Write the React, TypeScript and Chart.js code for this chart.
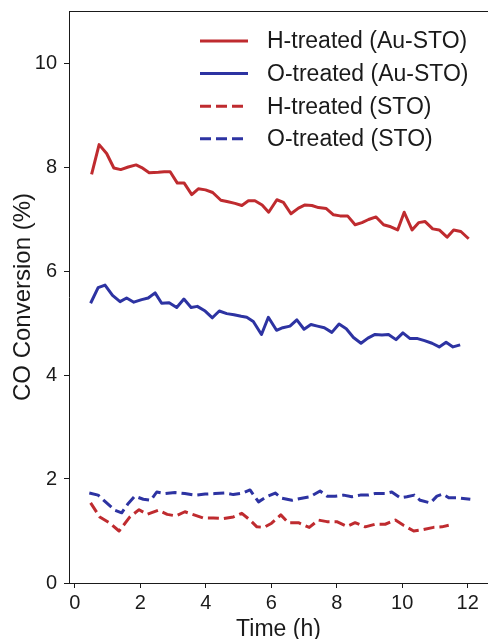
import React, { useEffect, useRef } from 'react';
import { Chart, registerables } from 'chart.js';

Chart.register(...registerables);

// ---- data ----
const seriesLabels = ['H-treated (Au-STO)', 'O-treated (Au-STO)', 'H-treated (STO)', 'O-treated (STO)'];

const hAuTime = [0.51, 0.74, 0.97, 1.19, 1.40, 1.63, 1.87, 2.04, 2.27, 2.55, 2.73, 2.91, 3.13, 3.34, 3.57, 3.77, 3.99, 4.21, 4.46, 4.68, 4.89, 5.10, 5.30, 5.50, 5.72, 5.92, 6.17, 6.37, 6.60, 6.83, 7.03, 7.24, 7.44, 7.68, 7.90, 8.10, 8.33, 8.56, 8.77, 8.97, 9.20, 9.43, 9.65, 9.86, 10.06, 10.30, 10.50, 10.70, 10.93, 11.13, 11.37, 11.57, 11.79, 12.03];
const hAuConv = [7.86, 8.43, 8.26, 7.98, 7.95, 8.00, 8.04, 7.99, 7.89, 7.90, 7.91, 7.91, 7.69, 7.69, 7.47, 7.58, 7.56, 7.51, 7.36, 7.33, 7.30, 7.26, 7.35, 7.35, 7.27, 7.13, 7.37, 7.32, 7.10, 7.21, 7.27, 7.26, 7.22, 7.20, 7.08, 7.06, 7.06, 6.89, 6.93, 6.99, 7.04, 6.89, 6.85, 6.79, 7.13, 6.79, 6.93, 6.95, 6.81, 6.79, 6.65, 6.79, 6.76, 6.62];

const oAuTime = [0.48, 0.71, 0.92, 1.15, 1.38, 1.58, 1.80, 2.04, 2.24, 2.45, 2.65, 2.88, 3.11, 3.33, 3.55, 3.74, 3.98, 4.20, 4.41, 4.64, 4.86, 5.08, 5.25, 5.45, 5.70, 5.91, 6.16, 6.35, 6.57, 6.78, 7.00, 7.21, 7.41, 7.62, 7.85, 8.07, 8.29, 8.51, 8.74, 8.95, 9.17, 9.38, 9.58, 9.81, 10.02, 10.24, 10.47, 10.68, 10.91, 11.13, 11.34, 11.55, 11.77];
const oAuConv = [5.38, 5.68, 5.73, 5.53, 5.41, 5.48, 5.40, 5.45, 5.48, 5.58, 5.38, 5.39, 5.30, 5.46, 5.30, 5.32, 5.23, 5.10, 5.23, 5.18, 5.16, 5.13, 5.11, 5.03, 4.78, 5.11, 4.86, 4.91, 4.94, 5.06, 4.88, 4.97, 4.94, 4.91, 4.82, 4.98, 4.89, 4.72, 4.61, 4.71, 4.78, 4.77, 4.78, 4.68, 4.81, 4.70, 4.70, 4.66, 4.61, 4.54, 4.63, 4.54, 4.58];

const hStoTime = [0.48, 0.76, 1.07, 1.35, 1.68, 1.96, 2.21, 2.55, 2.82, 3.09, 3.36, 3.64, 3.92, 4.23, 4.54, 4.84, 5.10, 5.35, 5.56, 5.78, 6.01, 6.29, 6.52, 6.83, 7.16, 7.44, 7.70, 8.00, 8.31, 8.56, 8.87, 9.17, 9.48, 9.79, 10.04, 10.35, 10.65, 10.96, 11.21, 11.42];
const hStoConv = [1.54, 1.27, 1.15, 1.00, 1.27, 1.41, 1.32, 1.40, 1.32, 1.29, 1.37, 1.31, 1.25, 1.25, 1.24, 1.27, 1.34, 1.21, 1.08, 1.07, 1.15, 1.31, 1.16, 1.16, 1.07, 1.21, 1.18, 1.18, 1.09, 1.16, 1.08, 1.13, 1.13, 1.21, 1.11, 1.00, 1.03, 1.07, 1.08, 1.11];

const oStoTime = [0.44, 0.71, 0.97, 1.22, 1.43, 1.63, 1.83, 2.09, 2.32, 2.50, 2.75, 3.06, 3.36, 3.67, 3.98, 4.28, 4.59, 4.84, 5.13, 5.35, 5.61, 5.86, 6.12, 6.32, 6.63, 6.93, 7.19, 7.49, 7.70, 7.95, 8.21, 8.46, 8.72, 8.97, 9.17, 9.48, 9.68, 9.94, 10.14, 10.37, 10.55, 10.86, 11.06, 11.24, 11.42, 11.67, 12.08];
const oStoConv = [1.73, 1.69, 1.54, 1.40, 1.35, 1.53, 1.67, 1.61, 1.59, 1.75, 1.72, 1.74, 1.72, 1.69, 1.71, 1.72, 1.73, 1.70, 1.73, 1.79, 1.56, 1.66, 1.73, 1.63, 1.59, 1.63, 1.66, 1.77, 1.67, 1.67, 1.69, 1.66, 1.69, 1.69, 1.72, 1.72, 1.75, 1.64, 1.66, 1.69, 1.59, 1.54, 1.67, 1.71, 1.64, 1.64, 1.61];

const xTicks = [0, 2, 4, 6, 8, 10, 12];
const yTicks = [0, 2, 4, 6, 8, 10];
const xTitle = 'Time (h)';
const yTitle = 'CO Conversion (%)';

// ---- styles ----
const RED = '#bf2b2f';
const BLUE = '#2d33a2';
const INK = '#1a1a1a';
const FONT = '"Liberation Sans", Arial, Helvetica, sans-serif';

const toPts = (t: number[], v: number[]) => t.map((x, i) => ({ x, y: v[i] }));

const frameAndLegend = {
  id: 'frameAndLegend',
  afterDraw(chart: any) {
    const ctx = chart.ctx;
    const { left, right, top } = chart.chartArea;
    ctx.save();
    // top spine
    ctx.strokeStyle = INK;
    ctx.lineWidth = 1;
    ctx.setLineDash([]);
    ctx.beginPath();
    ctx.moveTo(left, Math.round(top) + 0.5);
    ctx.lineTo(right, Math.round(top) + 0.5);
    ctx.stroke();
    // legend (inside axes, upper right)
    const x0 = left + 131;
    const lineLen = 48;
    const textX = x0 + 67;
    const y0 = top + 30;
    const dy = 32.6;
    chart.data.datasets.forEach((ds: any, i: number) => {
      const y = y0 + i * dy;
      ctx.strokeStyle = ds.borderColor;
      ctx.lineWidth = ds.borderWidth;
      ctx.lineCap = 'butt';
      ctx.setLineDash(ds.borderDash || []);
      ctx.beginPath();
      ctx.moveTo(x0, y);
      ctx.lineTo(x0 + lineLen, y);
      ctx.stroke();
      ctx.setLineDash([]);
      ctx.fillStyle = INK;
      ctx.font = `23px ${FONT}`;
      ctx.textAlign = 'left';
      ctx.textBaseline = 'middle';
      ctx.fillText(ds.label, textX, y + 1);
    });
    ctx.restore();
  },
};

const noPad = (s: any) => {
  s.paddingTop = 0;
  s.paddingBottom = 0;
  s.paddingLeft = 0;
  s.paddingRight = 0;
};

export default function App() {
  const ref = useRef<HTMLCanvasElement | null>(null);

  useEffect(() => {
    document.body.style.margin = '0';
    const canvas = ref.current;
    if (!canvas) return;
    const mk = (label: string, t: number[], v: number[], color: string, dash: number[], order: number) => ({
      label,
      data: toPts(t, v),
      borderColor: color,
      backgroundColor: color,
      borderWidth: 3,
      borderDash: dash,
      borderJoinStyle: 'round' as const,
      pointRadius: 0,
      pointHoverRadius: 0,
      tension: 0,
      fill: false,
      order,
    });
    const chart = new Chart(canvas, {
      type: 'line',
      data: {
        datasets: [
          mk(seriesLabels[0], hAuTime, hAuConv, RED, [], 4),
          mk(seriesLabels[1], oAuTime, oAuConv, BLUE, [], 3),
          mk(seriesLabels[2], hStoTime, hStoConv, RED, [11, 5], 2),
          mk(seriesLabels[3], oStoTime, oStoConv, BLUE, [11, 5], 1),
        ],
      },
      options: {
        animation: false,
        responsive: true,
        maintainAspectRatio: false,
        layout: { padding: { top: 11, right: 0, left: 0, bottom: 0 } },
        plugins: { legend: { display: false }, tooltip: { enabled: false } },
        scales: {
          x: {
            type: 'linear',
            min: -0.18,
            max: 12.62,
            afterBuildTicks: (s: any) => { s.ticks = xTicks.map((v) => ({ value: v })); },
            afterFit: (s: any) => { s.height = 56; noPad(s); },
            ticks: { font: { family: FONT, size: 20 }, color: INK, padding: 3, maxRotation: 0, autoSkip: false },
            grid: { drawOnChartArea: false, drawTicks: true, tickLength: 5, tickColor: INK, color: INK },
            border: { display: true, color: INK, width: 1 },
            title: { display: true, text: xTitle, font: { family: FONT, size: 23, lineHeight: 1 }, color: INK, padding: { top: 0, bottom: -2 } },
          },
          y: {
            type: 'linear',
            min: 0,
            max: 11,
            afterBuildTicks: (s: any) => { s.ticks = yTicks.map((v) => ({ value: v })); },
            afterFit: (s: any) => { s.width = 69; noPad(s); },
            ticks: { font: { family: FONT, size: 20 }, color: INK, padding: 7 },
            grid: { drawOnChartArea: false, drawTicks: true, tickLength: 5, tickColor: INK, color: INK },
            border: { display: true, color: INK, width: 1 },
            title: { display: true, text: yTitle, font: { family: FONT, size: 24, lineHeight: 1 }, color: INK, padding: { top: 11, bottom: 0 } },
          },
        },
      },
      plugins: [frameAndLegend],
    });
    return () => chart.destroy();
  }, []);

  return (
    <div style={{ width: 488, height: 639, position: 'relative' }}>
      <canvas ref={ref} />
    </div>
  );
}
